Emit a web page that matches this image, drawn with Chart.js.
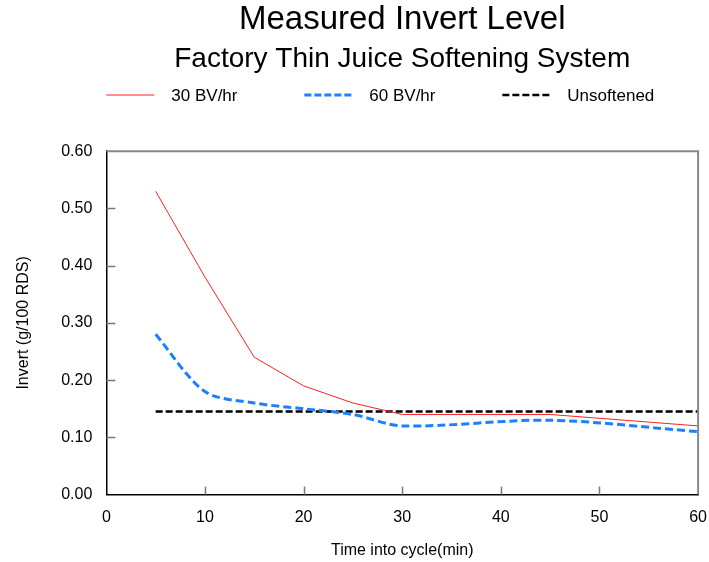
<!DOCTYPE html>
<html>
<head>
<meta charset="utf-8">
<script src="https://cdn.jsdelivr.net/npm/chart.js@4"></script>
<style>
  body { margin: 0; background: #fff; }
  #wrap { width: 709px; height: 562px; }
</style>
</head>
<body>
<div id="wrap"><canvas id="invertChart" width="709" height="562"></canvas></div>
<script>
// time into cycle (min)
const cycleTimes = [5, 10, 15, 20, 25, 30, 45, 60];
// invert (g/100 RDS)
const invert30 = [0.53, 0.38, 0.24, 0.19, 0.16, 0.14, 0.14, 0.12];
const invert60 = [0.28, 0.18, 0.16, 0.15, 0.14, 0.12, 0.13, 0.11];
const invertUnsoftened = [0.145, 0.145, 0.145, 0.145, 0.145, 0.145, 0.145, 0.145];
const seriesNames = ["30 BV/hr", "60 BV/hr", "Unsoftened"];
const xTicks = [0, 10, 20, 30, 40, 50, 60];
const yTicks = [0, 0.1, 0.2, 0.3, 0.4, 0.5, 0.6];

const FONT = "'Liberation Sans', Arial, sans-serif";
Chart.defaults.font.family = FONT;
Chart.defaults.color = "#000";

const toPoints = (vals) => vals.map((v, i) => ({ x: cycleTimes[i], y: v }));

// legend in fixed columns, like the original
const columnLegend = {
    id: "columnLegend",
    afterDraw(chart) {
        const ctx = chart.ctx;
        const left = chart.chartArea.left;
        const y = 95;
        ctx.save();
        chart.data.datasets.forEach((ds, i) => {
            const x0 = left + i * 198;
            ctx.beginPath();
            ctx.strokeStyle = ds.borderColor;
            ctx.lineWidth = ds.borderWidth;
            ctx.setLineDash(ds.borderDash ? [7, 3] : []);
            ctx.moveTo(x0, y);
            ctx.lineTo(x0 + 48, y);
            ctx.stroke();
            ctx.setLineDash([]);
            ctx.fillStyle = "#000";
            ctx.font = "17px " + FONT;
            ctx.textBaseline = "middle";
            ctx.fillText(ds.label, x0 + 65, y + 1);
        });
        ctx.restore();
    }
};

// inward tick marks and the grey top/right frame
const innerFrame = {
    id: "innerFrame",
    afterDatasetsDraw(chart) {
        const { ctx, chartArea: a, scales } = chart;
        ctx.save();
        ctx.strokeStyle = "#777";
        ctx.lineWidth = 1.5;
        scales.x.ticks.forEach(t => {
            if (t.value <= 0 || t.value >= 60) return;
            const px = Math.round(scales.x.getPixelForValue(t.value)) + 0.5;
            ctx.beginPath();
            ctx.moveTo(px, a.bottom);
            ctx.lineTo(px, a.bottom - 8);
            ctx.stroke();
        });
        scales.y.ticks.forEach(t => {
            if (t.value <= 0 || t.value >= 0.6) return;
            const py = Math.round(scales.y.getPixelForValue(t.value)) + 0.5;
            ctx.beginPath();
            ctx.moveTo(a.left, py);
            ctx.lineTo(a.left + 9, py);
            ctx.stroke();
        });
        ctx.strokeStyle = "#888";
        ctx.lineWidth = 2;
        ctx.beginPath();
        ctx.moveTo(a.left, a.top);
        ctx.lineTo(a.right, a.top);
        ctx.lineTo(a.right, a.bottom);
        ctx.stroke();
        ctx.restore();
    }
};

new Chart(document.getElementById("invertChart"), {
    type: "line",
    data: {
        datasets: [
            {
                label: seriesNames[0],
                data: toPoints(invert30),
                borderColor: "#ff2020",
                borderWidth: 1,
                pointRadius: 0,
                tension: 0
            },
            {
                label: seriesNames[1],
                data: toPoints(invert60),
                borderColor: "#1a80ff",
                borderWidth: 3,
                borderDash: [8, 4],
                pointRadius: 0,
                tension: 0.3
            },
            {
                label: seriesNames[2],
                data: toPoints(invertUnsoftened),
                borderColor: "#000",
                borderWidth: 2.5,
                borderDash: [7, 3],
                pointRadius: 0,
                tension: 0
            }
        ]
    },
    options: {
        responsive: false,
        animation: false,
        devicePixelRatio: 1,
        layout: { padding: { left: 6, right: 0, top: 0, bottom: 0 } },
        plugins: {
            legend: { display: false },
            tooltip: { enabled: false },
            title: {
                display: true,
                text: "Measured Invert Level",
                fullSize: false,
                font: { size: 33, weight: "normal" },
                color: "#000",
                padding: { top: 0, bottom: 3 }
            },
            subtitle: {
                display: true,
                text: "Factory Thin Juice Softening System",
                fullSize: false,
                font: { size: 28, weight: "normal" },
                color: "#000",
                padding: { top: 0, bottom: 75 }
            }
        },
        scales: {
            x: {
                type: "linear",
                min: 0,
                max: 60,
                afterBuildTicks: (s) => { s.ticks = xTicks.map(v => ({ value: v })); },
                ticks: { font: { size: 16 }, padding: 2, color: "#000", maxRotation: 0 },
                grid: {
                    display: true,
                    drawOnChartArea: false,
                    drawTicks: true,
                    tickLength: 11,
                    tickColor: "rgba(0,0,0,0)"
                },
                border: { display: true, color: "#000", width: 1.5 },
                title: {
                    display: true,
                    text: "Time into cycle(min)",
                    font: { size: 16 },
                    color: "#000",
                    padding: { top: 12, bottom: 2 }
                }
            },
            y: {
                type: "linear",
                min: 0,
                max: 0.6,
                afterBuildTicks: (s) => { s.ticks = yTicks.map(v => ({ value: v })); },
                ticks: {
                    font: { size: 16 },
                    padding: 14,
                    color: "#000",
                    callback: (v) => v.toFixed(2)
                },
                grid: { display: true, drawOnChartArea: false, drawTicks: false },
                border: { display: true, color: "#000", width: 1.5 },
                title: {
                    display: true,
                    text: "Invert (g/100 RDS)",
                    font: { size: 16 },
                    color: "#000",
                    padding: { top: 8, bottom: 14 }
                }
            }
        }
    },
    plugins: [columnLegend, innerFrame]
});
</script>
</body>
</html>
